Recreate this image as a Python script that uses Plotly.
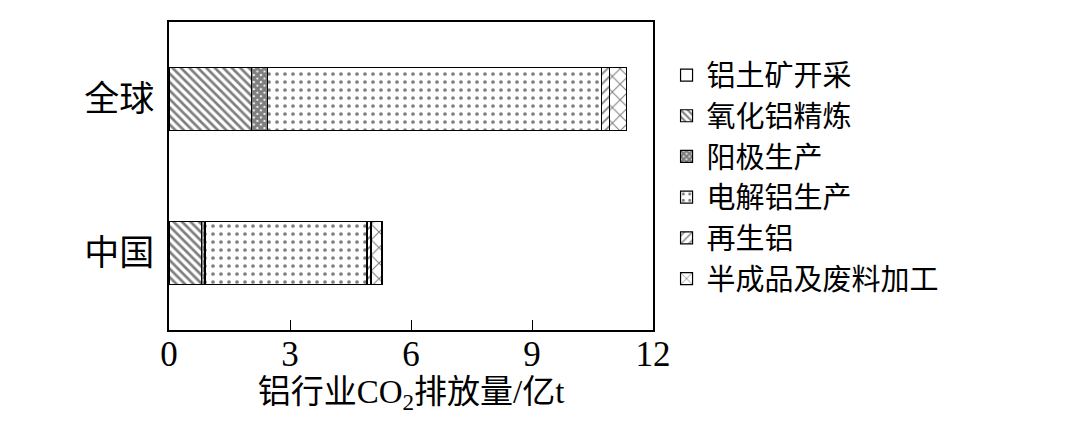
import plotly.graph_objects as go

regions = ["中国", "全球"]

# CO2 emissions by stage, 亿t  (order: China, World)
bauxite = [0.01, 0.02]
alumina = [0.80, 2.03]
anode = [0.08, 0.40]
smelting = [4.02, 8.27]
recycled = [0.10, 0.20]
semi = [0.27, 0.42]

x_ticks = [0, 3, 6, 9, 12]

fig = go.Figure()


def add_stage(vals, name, shape, size, solidity):
    fig.add_trace(go.Bar(
        y=regions,
        x=vals,
        name=name,
        orientation="h",
        width=0.41,
        marker=dict(
            color="white",
            line=dict(color="black", width=1.2),
            pattern=dict(shape=shape, fgcolor="black", bgcolor="white",
                         size=size, solidity=solidity, fillmode="overlay"),
        ),
    ))


add_stage(bauxite, "铝土矿开采", "", 8, 0.2)
add_stage(alumina, "氧化铝精炼", "\\", 6, 0.45)
add_stage(anode, "阳极生产", "x", 5, 0.85)
add_stage(smelting, "电解铝生产", ".", 8, 0.17)
add_stage(recycled, "再生铝", "/", 7, 0.25)
add_stage(semi, "半成品及废料加工", "x", 11, 0.18)

# the page body adds an 8 px offset, margins compensate for it
fig.update_layout(
    barmode="stack",
    width=1080,
    height=425,
    margin=dict(l=161, r=435, t=12, b=103),
    paper_bgcolor="white",
    plot_bgcolor="white",
    font=dict(family="Liberation Serif, Noto Sans CJK SC", size=30, color="black"),
    legend=dict(
        x=1.028, y=0.91, xanchor="left", yanchor="top",
        traceorder="normal",
        font=dict(size=29),
        bgcolor="rgba(0,0,0,0)",
        tracegroupgap=0,
    ),
    xaxis=dict(
        range=[0, 12],
        tickvals=x_ticks,
        ticks="inside",
        ticklen=10,
        tickcolor="black",
        showgrid=False,
        zeroline=False,
        showline=True,
        linecolor="black",
        linewidth=1.5,
        mirror=True,
        tickfont=dict(size=35),
        ticklabelstandoff=-8,
        title=dict(text="铝行业CO<sub>2</sub>排放量/亿t", font=dict(size=33), standoff=2),
    ),
    yaxis=dict(
        range=[-0.5, 1.5],
        showgrid=False,
        zeroline=False,
        showline=True,
        linecolor="black",
        linewidth=1.5,
        mirror=True,
        ticks="",
        tickfont=dict(size=35),
        ticklabelstandoff=6,
    ),
)

fig.write_html("out.html")
